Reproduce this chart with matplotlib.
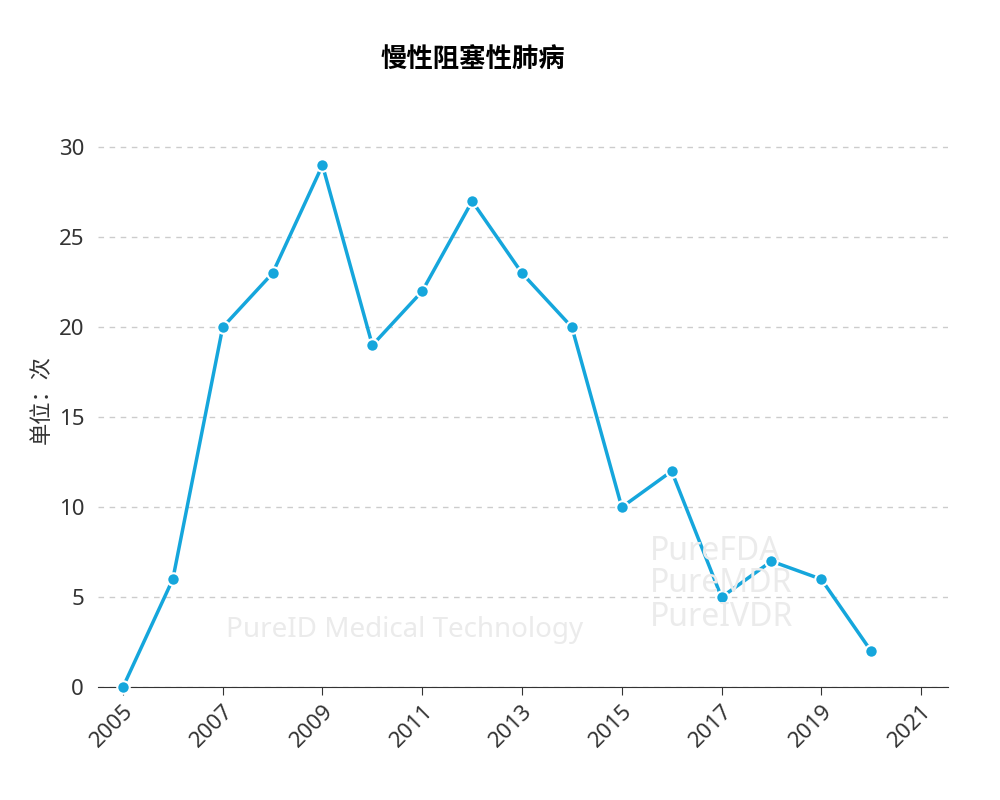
import matplotlib
matplotlib.use("Agg")
import matplotlib.pyplot as plt

plt.rcParams['font.family'] = ['Noto Sans', 'Noto Sans CJK SC', 'DejaVu Sans']

years = [2005, 2006, 2007, 2008, 2009, 2010, 2011, 2012, 2013, 2014, 2015, 2016, 2017, 2018, 2019, 2020]
counts = [0, 6, 20, 23, 29, 19, 22, 27, 23, 20, 10, 12, 5, 7, 6, 2]
xticks = [2005, 2007, 2009, 2011, 2013, 2015, 2017, 2019, 2021]
yticks = [0, 5, 10, 15, 20, 25, 30]

fig = plt.figure(figsize=(10, 8), dpi=100)
ax = fig.add_axes([0.098, 0.141, 0.85, 0.72])

# faint watermark text
fig.text(0.405, 0.213, 'PureID Medical Technology', fontsize=20, color='#ebebeb', ha='center', va='center', zorder=0)
fig.text(0.65, 0.27, 'PureFDA\nPureMDR\nPureIVDR', fontsize=23, color='#ebebeb', ha='left', va='center', zorder=0, linespacing=1.0)

ax.plot(years, counts, color='#15a6dc', lw=2.5, marker='o', ms=9,
        markerfacecolor='#15a6dc', markeredgecolor='white', markeredgewidth=1.5, zorder=3, clip_on=False)
ax.set_xlim(2004.5, 2021.54)
ax.set_ylim(0, 32)
ax.set_xticks(xticks)
ax.set_xticklabels([str(x) for x in xticks], rotation=45, ha='right', rotation_mode='anchor')
ax.set_yticks(yticks)
ax.tick_params(axis='both', labelsize=16, colors='#333333')
ax.tick_params(axis='y', length=0, pad=10)
ax.tick_params(axis='x', length=6, color='#333333')
ax.grid(axis='y', ls=(0, (4, 4)), color='#cccccc', lw=1)
ax.set_facecolor('none')
for s in ['top', 'right', 'left']:
    ax.spines[s].set_visible(False)
ax.spines['bottom'].set_color('#333333')
ax.set_ylabel('单位：次', fontsize=16, color='#333333')
fig.text(0.473, 0.925, '慢性阻塞性肺病', fontsize=19, fontweight='bold', ha='center', va='center')

fig.savefig('out.png')
